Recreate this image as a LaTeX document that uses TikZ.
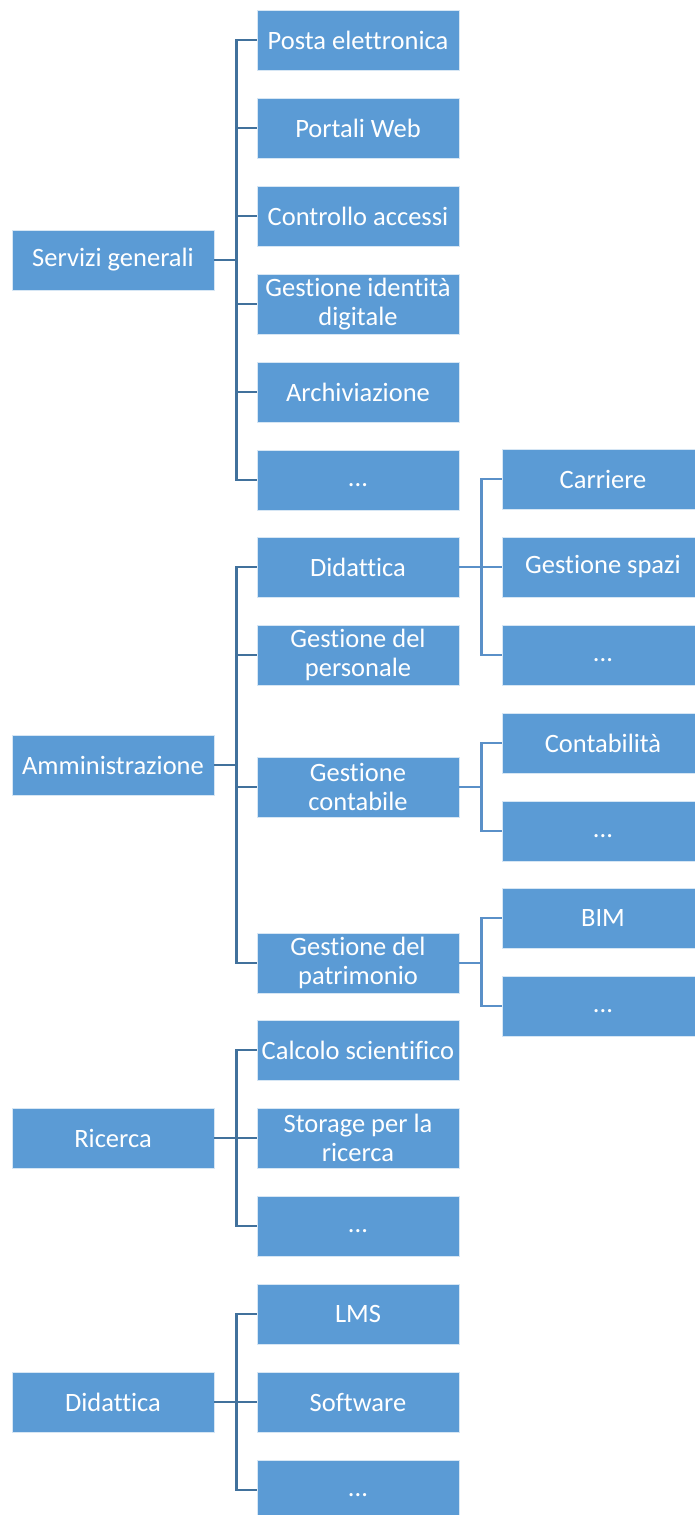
\documentclass[tikz,border=0pt]{standalone}
\usepackage{fontspec}
\setmainfont[Ligatures=NoCommon]{Carlito}
\definecolor{boxblue}{HTML}{5B9BD5}
\definecolor{linedark}{HTML}{41719C}
\definecolor{linelight}{HTML}{5A90C8}
\newcommand{\more}{\vphantom{Ag}...}
\tikzset{
  box/.style={fill=boxblue, draw=white!75!boxblue, line width=0.8pt,
    minimum width=202, minimum height=60, inner sep=2pt, text=white,
    align=center, font=\fontsize{26.5}{29.5}\selectfont},
  link/.style={draw=linedark, line width=2.8pt},
  sublink/.style={draw=linelight, line width=2.4pt}
}
\begin{document}
\begin{tikzpicture}[x=1pt,y=-1pt]
		\clip (0,0) rectangle (695,1515);
		\fill [white] (0,0) rectangle (695,1515);
		% first column
		\node [box] (sg) at (113,260) {Servizi generali};
		\node [box] (amm) at (113,765) {Amministrazione};
		\node [box] (ric) at (113,1138) {Ricerca};
		\node [box] (did) at (113,1402) {Didattica};
		% second column
		\node [box] (pe) at (358,40) {Posta elettronica};
		\node [box] (pw) at (358,128) {Portali Web};
		\node [box] (ca) at (358,216) {Controllo accessi};
		\node [box] (gid) at (358,304) {Gestione identità\\digitale};
		\node [box] (arc) at (358,392) {Archiviazione};
		\node [box] (sgx) at (358,480) {\more};
		\node [box] (didl) at (358,567) {Didattica};
		\node [box] (gp) at (358,655) {Gestione del\\personale};
		\node [box] (gc) at (358,787) {Gestione\\contabile};
		\node [box] (gpat) at (358,963) {Gestione del\\patrimonio};
		\node [box] (cs) at (358,1050) {Calcolo scientifico};
		\node [box] (spr) at (358,1138) {Storage per la\\ricerca};
		\node [box] (rx) at (358,1226) {\more};
		\node [box] (lms) at (358,1314) {LMS};
		\node [box] (sw) at (358,1402) {Software};
		\node [box] (dx) at (358,1490) {\more};
		% third column
		\node [box] (car) at (603,479) {Carriere};
		\node [box] (gs) at (603,567) {Gestione spazi};
		\node [box] (dix) at (603,655) {\more};
		\node [box] (con) at (603,743) {Contabilità};
		\node [box] (cx) at (603,831) {\more};
		\node [box] (bim) at (603,918) {BIM};
		\node [box] (bx) at (603,1006) {\more};
		% links
		\foreach \c in {pe,pw,ca,gid,arc,sgx}
		\draw [link] (sg.east) -- ++(22,0) |- (\c.west);
		\foreach \c in {didl,gp,gc,gpat}
		\draw [link] (amm.east) -- ++(22,0) |- (\c.west);
		\foreach \c in {cs,spr,rx}
		\draw [link] (ric.east) -- ++(22,0) |- (\c.west);
		\foreach \c in {lms,sw,dx}
		\draw [link] (did.east) -- ++(22,0) |- (\c.west);
		\foreach \c in {car,gs,dix}
		\draw [sublink] (didl.east) -- ++(22,0) |- (\c.west);
		\foreach \c in {con,cx}
		\draw [sublink] (gc.east) -- ++(22,0) |- (\c.west);
		\foreach \c in {bim,bx}
		\draw [sublink] (gpat.east) -- ++(22,0) |- (\c.west);
		\end{tikzpicture}
\end{document}
